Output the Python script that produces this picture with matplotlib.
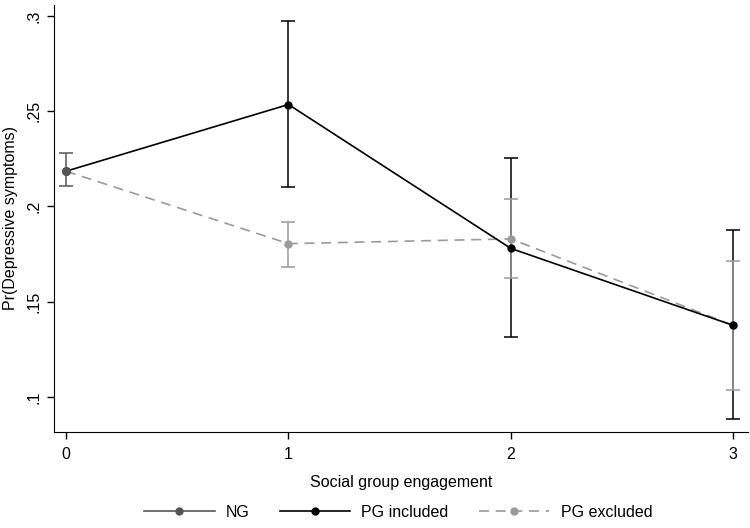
import matplotlib
matplotlib.use("Agg")
import matplotlib.pyplot as plt

plt.rcParams['font.family'] = ['Liberation Sans', 'DejaVu Sans']

# social group engagement levels
engagement = [0, 1, 2, 3]

# NG (no group) - only at 0
ng_x = [0]
ng_y = [0.2185]
ng_lo = [0.2105]
ng_hi = [0.2283]

# PG included
inc_y = [0.2185, 0.2535, 0.1780, 0.1376]
inc_lo = [0.2105, 0.2100, 0.1315, 0.0885]
inc_hi = [0.2283, 0.2975, 0.2255, 0.1875]

# PG excluded
exc_y = [0.2185, 0.1805, 0.1830, 0.1376]
exc_lo = [0.2105, 0.1685, 0.1625, 0.1035]
exc_hi = [0.2283, 0.1920, 0.2040, 0.1715]

yticks = [0.1, 0.15, 0.2, 0.25, 0.3]
ytick_labels = ['.1', '.15', '.2', '.25', '.3']


def err(y, lo, hi):
    return [[a - b for a, b in zip(y, lo)], [b - a for a, b in zip(y, hi)]]


fig = plt.figure(figsize=(7.5, 5.28), dpi=100)
ax = fig.add_axes([54 / 750, 1 - 432 / 528, (748 - 54) / 750, (432 - 5) / 528])

# excluded drawn first (grey, dashed)
ax.errorbar(engagement[1:], exc_y[1:], yerr=err(exc_y[1:], exc_lo[1:], exc_hi[1:]),
            fmt='none', ecolor='#9a9a9a', elinewidth=1.1, capsize=5, capthick=1.1, zorder=2)
ax.plot(engagement, exc_y, color='#9a9a9a', lw=1.2, ls=(0, (6, 4)), marker='o',
        markersize=5, zorder=3, label='PG excluded')

ax.errorbar(engagement[1:], inc_y[1:], yerr=err(inc_y[1:], inc_lo[1:], inc_hi[1:]),
            fmt='none', ecolor='black', elinewidth=1.1, capsize=5, capthick=1.1, zorder=1)
ax.plot(engagement, inc_y, color='black', lw=1.2, marker='o', markersize=5, zorder=4,
        label='PG included')

ax.errorbar(ng_x, ng_y, yerr=err(ng_y, ng_lo, ng_hi), fmt='o', color='#555555',
            ecolor='#555555', markersize=5.5, elinewidth=1.1, capsize=5, capthick=1.1,
            zorder=5)
ax.plot([], [], color='#555555', lw=1.2, marker='o', markersize=5, label='NG')

ax.set_xlim(-0.054, 3.066)
ax.set_ylim(0.0817, 0.3057)
ax.set_xticks(engagement)
ax.set_yticks(yticks)
ax.set_yticklabels(ytick_labels, rotation=90, va='center')
ax.tick_params(direction='out', length=5, width=1, labelsize=11.5, colors='black')
ax.tick_params(axis='x', pad=6)
ax.tick_params(axis='y', pad=4)
ax.spines['top'].set_visible(False)
ax.spines['right'].set_visible(False)
ax.set_xlabel('Social group engagement', fontsize=11.5, labelpad=9)
ax.set_ylabel('Pr(Depressive symptoms)', fontsize=11.5, labelpad=6)

handles, labels = ax.get_legend_handles_labels()
order = [labels.index('NG'), labels.index('PG included'), labels.index('PG excluded')]
fig.legend([handles[i] for i in order], [labels[i] for i in order], loc='lower center',
           bbox_to_anchor=(0.531, -0.012), ncol=3, frameon=False, fontsize=11.5,
           handlelength=4.4, columnspacing=1.9, handletextpad=0.7)

fig.savefig('out.png', dpi=100, facecolor='white')
